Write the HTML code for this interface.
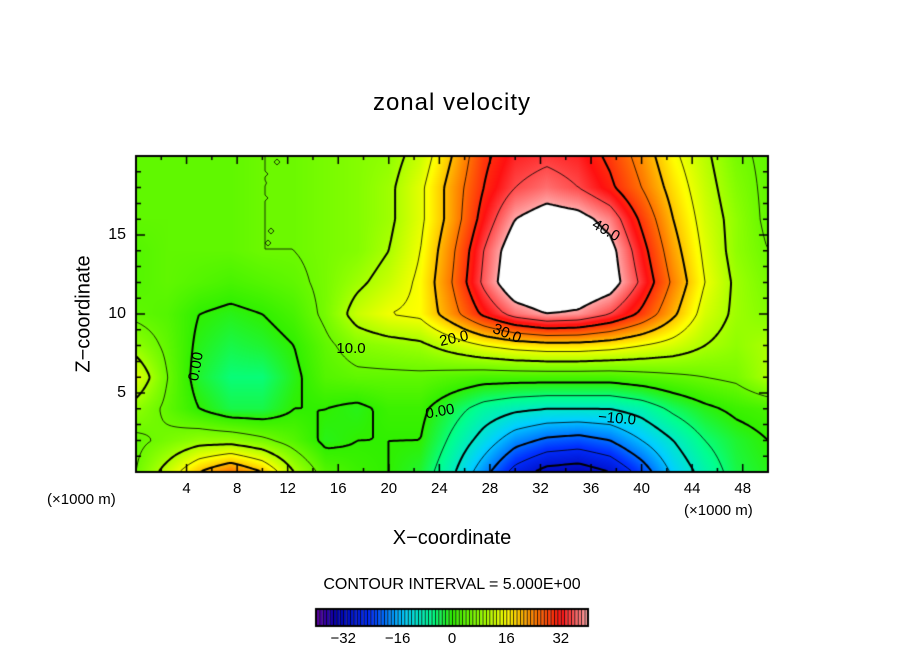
<!DOCTYPE html>
<html><head><meta charset="utf-8"><style>
body{margin:0;background:#fff;width:904px;height:654px;overflow:hidden;font-family:"Liberation Sans",sans-serif}
#wrap{position:relative;width:904px;height:654px}
.t{position:absolute;white-space:nowrap;color:#000}
</style></head><body>
<div id="wrap">
<div class="t" style="left:0;width:904px;text-align:center;top:89px;font-size:24px;letter-spacing:1px">zonal velocity</div>
<canvas id="cv" width="904" height="654" style="position:absolute;left:0;top:0"></canvas>
<div class="t" style="left:47px;top:491px;font-size:15px">(×1000 m)</div>
<div class="t" style="left:684px;top:502px;font-size:15px">(×1000 m)</div>
<div class="t" style="left:0;width:904px;text-align:center;top:527px;font-size:20px">X−coordinate</div>
<div class="t" style="left:84px;top:314px;font-size:20px;transform:translate(-50%,-50%) rotate(-90deg)">Z−coordinate</div>
<div class="t" style="left:0;width:904px;text-align:center;top:576px;font-size:16px">CONTOUR INTERVAL = 5.000E+00</div>
<div id="labels"></div>
</div>
<script>
const xs=[0,2.5,5,7.5,10,12.5,15,17.5,20,22.5,25,27.5,30,32.5,35,37.5,40,42.5,45,47.5,50];
const zs=[20,18,16,14,12,10,8,6,4,2,0];
const row20=[4,4,4,4,5,5,6,7,8,12,20,29,33,34,33,29,23,16,11,6,4];
const row18=[4,4,4,4,5,5,6,7,9,14,22,30,35,37,35,31,25,18,12,7,4];
const row16=[4,4,4,4,5,5,6,7,9,14,22,32,40,43,42,38,29,20,13,8,4];
const row14=[3,4,4,4,5,5,6,7,10,15,24,35,44,46,45,42,32,22,14,8,5];
const row12=[3,4,3,2,3,4,6,9,12,16,25,36,45,47,46,43,34,24,15,9,6];
const row10=[4,3,0,-1,0,2,6,12,15,16,23,31,37,40,39,35,29,21,13,9,7];
const row8=[8,4,-1,-3,-2,0,4,7,8,9,12,15,17,18,18,17,15,13,10,8,10];
const row6=[14,5,-2,-5,-5,-1,3,4,4,4,3,2,2,2,2,2,3,4,5,6,10];
const row4=[8,4,0,-3,-3,0,0,-1,1,1,-3,-7,-9,-10,-10,-10,-8,-4,-1,1,2];
const row2=[4,6,8,8,6,3,-1,0,0,0,-6,-12,-18,-21,-22,-20,-15,-10,-5,-2,0];
const row0=[5,12,20,25,20,10,3,1,0,-2,-9,-18,-27,-32,-33,-30,-23,-14,-8,-3,-1];
const grid=[row20,row18,row16,row14,row12,row10,row8,row6,row4,row2,row0];
const xTicks=[4,8,12,16,20,24,28,32,36,40,44,48];
const zTicks=[5,10,15];
const cbTicks=[-32,-16,0,16,32];
const stops=[[-40,[96,0,160]],[-34,[0,0,176]],[-24,[0,48,255]],[-14,[0,208,255]],[-6,[0,255,144]],[0,[48,240,0]],[8,[144,255,0]],[16,[255,255,0]],[24,[255,128,0]],[32,[255,16,16]],[40,[255,168,168]]];
const X0=136,X1=768,Y0=156,Y1=472;
const px=x=>X0+(x/50)*(X1-X0), pz=z=>Y1-(z/20)*(Y1-Y0);
function val(x,z){
  let fi=x/2.5, fj=(20-z)/2; fi=Math.max(0,Math.min(19.999,fi)); fj=Math.max(0,Math.min(9.999,fj));
  const i=Math.floor(fi),j=Math.floor(fj),a=fi-i,b=fj-j;
  return grid[j][i]*(1-a)*(1-b)+grid[j][i+1]*a*(1-b)+grid[j+1][i]*(1-a)*b+grid[j+1][i+1]*a*b;
}
function col(v){
  if(v>40)return [255,255,255];
  if(v<=stops[0][0])return stops[0][1];
  for(let k=1;k<stops.length;k++){if(v<=stops[k][0]){const[a,ca]=stops[k-1],[b,cb]=stops[k];const t=(v-a)/(b-a);return ca.map((c,i)=>Math.round(c+(cb[i]-c)*t));}}
  return stops[stops.length-1][1];
}
const cv=document.getElementById('cv'),ctx=cv.getContext('2d');
const W=X1-X0,H=Y1-Y0,img=ctx.createImageData(W,H);
for(let yy=0;yy<H;yy++)for(let xx=0;xx<W;xx++){
  const v=val((xx+0.5)/W*50,20-(yy+0.5)/H*20),c=col(v),o=(yy*W+xx)*4;
  img.data[o]=c[0];img.data[o+1]=c[1];img.data[o+2]=c[2];img.data[o+3]=255;}
ctx.putImageData(img,X0,Y0);
const S=3,nx=Math.ceil(W/S),ny=Math.ceil(H/S),F=[];
for(let j=0;j<=ny;j++){F.push([]);for(let i=0;i<=nx;i++)F[j].push(val(Math.min(50,i*S/W*50),20-Math.min(20,j*S/H*20)));}
ctx.save();ctx.beginPath();ctx.rect(X0,Y0,W,H);ctx.clip();
for(let L=-35;L<=40;L+=5){
  ctx.beginPath();
  for(let j=0;j<ny;j++)for(let i=0;i<nx;i++){
    const c=[[i,j],[i+1,j],[i+1,j+1],[i,j+1]],pts=[];
    for(let k=0;k<4;k++){const p=c[k],q=c[(k+1)%4],va=F[p[1]][p[0]],vb=F[q[1]][q[0]];
      if((va<L)!==(vb<L)){const t=(L-va)/(vb-va);pts.push([X0+(p[0]+(q[0]-p[0])*t)*S,Y0+(p[1]+(q[1]-p[1])*t)*S]);}}
    for(let k=0;k+1<pts.length;k+=2){ctx.moveTo(pts[k][0],pts[k][1]);ctx.lineTo(pts[k+1][0],pts[k+1][1]);}
  }
  ctx.lineWidth=(L%10===0)?2:0.8;ctx.strokeStyle='#000';
  ctx.setLineDash(L<0?[4,3]:[]);ctx.stroke();
}
ctx.restore();ctx.setLineDash([]);
ctx.lineWidth=2;ctx.strokeStyle='#000';ctx.strokeRect(X0,Y0,W,H);
ctx.lineWidth=1.5;ctx.beginPath();
for(let x=2;x<50;x+=2){const L=x%4===0?8:4;ctx.moveTo(px(x),Y0);ctx.lineTo(px(x),Y0+L);ctx.moveTo(px(x),Y1);ctx.lineTo(px(x),Y1-L);}
for(let z=1;z<20;z++){const L=z%5===0?9:5;ctx.moveTo(X0,pz(z));ctx.lineTo(X0+L,pz(z));ctx.moveTo(X1,pz(z));ctx.lineTo(X1-L,pz(z));}
ctx.stroke();
const CB0=316,CB1=588,CY=609,CH=17;
for(let v=-40;v<40;v++){const a=CB0+(v+40)/80*(CB1-CB0),b=CB0+(v+41)/80*(CB1-CB0),c=col(v+0.5);
  ctx.fillStyle=`rgb(${c})`;ctx.fillRect(a,CY,b-a,CH);ctx.fillStyle='#000';ctx.fillRect(a,CY,0.8,CH);}
ctx.lineWidth=2;ctx.strokeRect(CB0,CY,CB1-CB0,CH);
const lab=document.getElementById('labels');
function addText(txt,x,y,size,name,extra){
  const d=document.createElement('div');d.className='t';d.textContent=txt;
  d.style.left=x+'px';d.style.top=y+'px';d.style.fontSize=size+'px';d.style.transform='translateX(-50%)'+(extra||'');
  
  
  lab.appendChild(d);}
xTicks.forEach(x=>addText(String(x),px(x),480,15,'x-tick-label'));
zTicks.forEach(z=>{const d=document.createElement('div');d.className='t';d.textContent=z;d.style.right=(904-126)+'px';d.style.top=(pz(z)-9)+'px';d.style.fontSize='16px';
  
  
  lab.appendChild(d);});
cbTicks.forEach(v=>addText(v<0?'−'+(-v):String(v),CB0+(v+40)/80*(CB1-CB0),630,15,'colorbar-tick-label'));
const cl=[['40.0',606,222,30],['30.0',507,325,22],['20.0',454,330,-12],['10.0',351,340,0],['0.00',196,358,-80],['0.00',440,403,-10],['−10.0',617,410,5]];
cl.forEach(c=>addText(c[0],c[1],c[2],15,'contour-label',' rotate('+c[3]+'deg)'));
</script>
</body></html>
